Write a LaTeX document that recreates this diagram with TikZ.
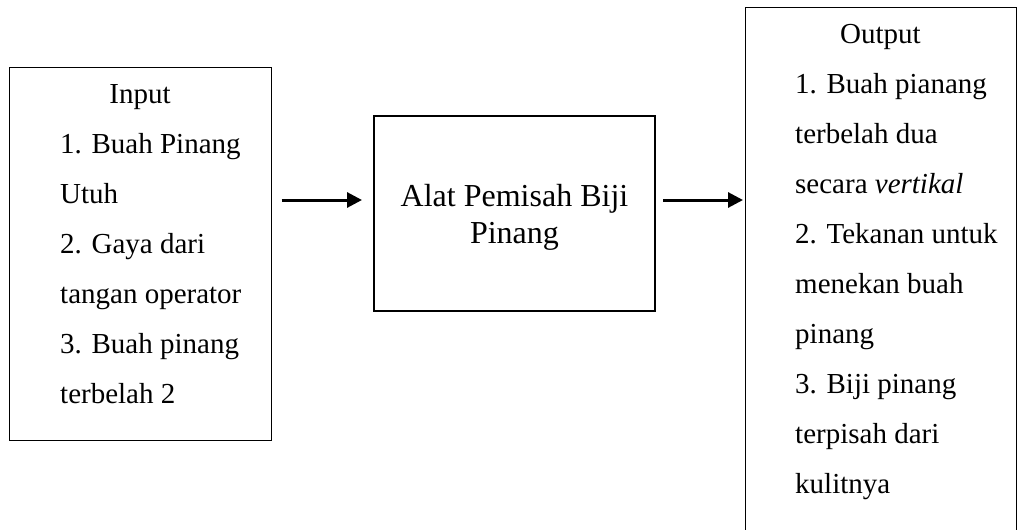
\documentclass[tikz,border=0pt]{standalone}
\usepackage{fontspec}
\setmainfont{Liberation Serif}
\usetikzlibrary{arrows.meta}
\begin{document}
\begin{tikzpicture}[x=1pt,y=-1pt,
  thinbox/.style={draw=black, line width=1pt, rectangle, inner sep=0pt},
  thickbox/.style={draw=black, line width=2pt, rectangle, inner sep=0pt},
  sidetext/.style={inner sep=0pt, font={\fontsize{29}{50}\selectfont}},
  midtext/.style={inner sep=0pt, align=center, font={\fontsize{32}{37}\selectfont}},
  flow/.style={line width=3pt, -{Triangle[length=15pt,width=15pt]}}]
\useasboundingbox (0,0) rectangle (1023,530);
\clip (0,0) rectangle (1023,530);
% boxes
\node[thinbox, minimum width=262pt, minimum height=373pt] (inbox) at (140,253.5) {};
\node[thickbox, minimum width=281pt, minimum height=195pt] (mid) at (514.5,213.5) {};
\node[thinbox, minimum width=271pt, minimum height=538pt] (outbox) at (880.5,276) {};
% input text (base anchor = baseline of the last line)
\node[sidetext, anchor=base] (intitle) at (140,103) {Input};
\node[sidetext, align=left, anchor=base west] (inlist) at (60,403)
  {1. Buah Pinang\\Utuh\\2. Gaya dari\\tangan operator\\3. Buah pinang\\terbelah 2};
% middle text
\node[midtext, anchor=base] (midtxt) at (514.5,243) {Alat Pemisah Biji\\Pinang};
% output text
\node[sidetext, anchor=base] (outtitle) at (880.5,43) {Output};
\node[sidetext, align=left, anchor=base west] (outlist) at (795,493)
  {1. Buah pianang\\terbelah dua\\secara \textit{vertikal}\\2. Tekanan untuk\\menekan buah\\pinang\\3. Biji pinang\\terpisah dari\\kulitnya};
% arrows
\coordinate (ay) at (0,200);
\draw[flow, shorten <=10pt, shorten >=11pt] (inbox.east |- ay) -- (mid.west |- ay);
\draw[flow, shorten <=7pt, shorten >=1.5pt] (mid.east |- ay) -- (outbox.west |- ay);
\end{tikzpicture}
\end{document}
